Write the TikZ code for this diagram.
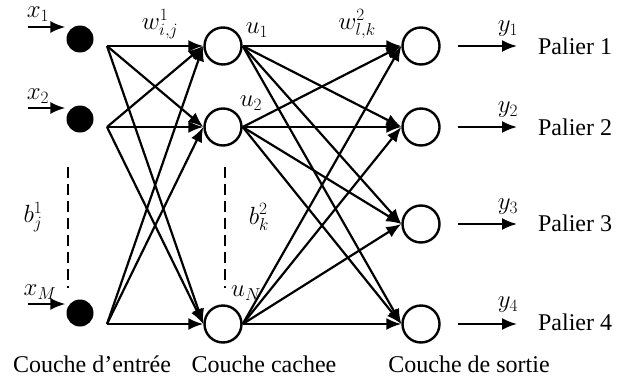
\documentclass[tikz,border=0pt]{standalone}
\usepackage{fontspec}
\setmainfont{Liberation Serif}
\usetikzlibrary{arrows.meta}

\begin{document}
\begin{tikzpicture}[x=1pt,y=-1pt, line width=2.2pt,
  inp/.style={circle,fill=black,minimum size=27pt,inner sep=0pt},
  neur/.style={circle,draw,line width=2.4pt,minimum size=37pt,inner sep=0pt},
  lab/.style={font=\fontsize{23}{23}\selectfont,inner sep=0pt},
  txt/.style={font=\fontsize{24}{24}\selectfont,inner sep=0pt},
  link/.style={-{Latex[length=15pt,width=12pt]}}]
  % frame: pixel grid of the figure, y downwards
  \useasboundingbox (0,0) rectangle (623,380);

  % input layer
  \node[inp] (in1) at (80,39)  {};
  \node[inp] (in2) at (80,119) {};
  \node[inp] (inM) at (80,313) {};
  \coordinate (s1) at (107,46);
  \coordinate (s2) at (107,127);
  \coordinate (sM) at (107,324);

  % hidden layer
  \node[neur] (h1) at (223,46)  {};
  \node[neur] (h2) at (223,127) {};
  \node[neur] (hN) at (223,324) {};

  % output layer
  \node[neur] (o1) at (421,46)  {};
  \node[neur] (o2) at (421,127) {};
  \node[neur] (o3) at (421,224) {};
  \node[neur] (o4) at (421,324) {};

  % inputs arriving
  \coordinate (e1) at (28,27);
  \coordinate (e2) at (28,108);
  \coordinate (eM) at (28,304);
  \foreach \i in {1,2,M}
    \draw[link] (e\i) -- (e\i -| in\i.west);
  \node[lab] (lx1) at (38,14)  {$x_1$};
  \node[lab] (lx2) at (38,96)  {$x_2$};
  \node[lab] (lxM) at (40,292) {$x_M$};

  % weights input -> hidden
  \foreach \i in {1,2,M}
    \foreach \j in {1,2,N}
      \draw[link] (s\i) -- (h\j.west);
  \node[lab] (w1) at (160,24) {$w^1_{i,j}$};

  % weights hidden -> output
  \foreach \j in {1,2,N}
    \foreach \k in {1,2,3,4}
      \draw[link] (h\j.east) -- (o\k.west);
  \node[lab] (w2) at (357,24) {$w^2_{l,k}$};

  % hidden labels
  \node[lab] (lu1) at (257,30)  {$u_1$};
  \node[lab] (lu2) at (251,103) {$u_2$};
  \node[lab] (luN) at (246,293) {$u_N$};

  % dashed gaps and biases
  \draw[line width=2.2pt, dash pattern=on 11pt off 6pt] (68,167) -- (68,288);
  \draw[line width=2.2pt, dash pattern=on 11pt off 6pt] (225,167) -- (225,288);
  \node[lab] (bj) at (33,217)  {$b^1_j$};
  \node[lab] (bk) at (259,217) {$b^2_k$};

  % outputs
  \node[txt, anchor=west] (pal1) at (537,46)  {Palier 1};
  \node[txt, anchor=west] (pal2) at (537,127) {Palier 2};
  \node[txt, anchor=west] (pal3) at (537,223) {Palier 3};
  \node[txt, anchor=west] (pal4) at (537,322) {Palier 4};
  \foreach \k in {1,2,3,4}
    \draw[link] ([xshift=17pt]o\k.east) -- ([xshift=-20pt]o\k.east -| pal\k.west);
  \node[lab] (ly1) at (508,29)  {$y_1$};
  \node[lab] (ly2) at (508,110) {$y_2$};
  \node[lab] (ly3) at (508,207) {$y_3$};
  \node[lab] (ly4) at (508,305) {$y_4$};

  % layer names
  \node[txt, anchor=base] (c1) at (92,372)  {Couche d’entrée};
  \node[txt, anchor=base] (c2) at (264,372) {Couche cachee};
  \node[txt, anchor=base] (c3) at (469,372) {Couche de sortie};
\end{tikzpicture}
\end{document}
